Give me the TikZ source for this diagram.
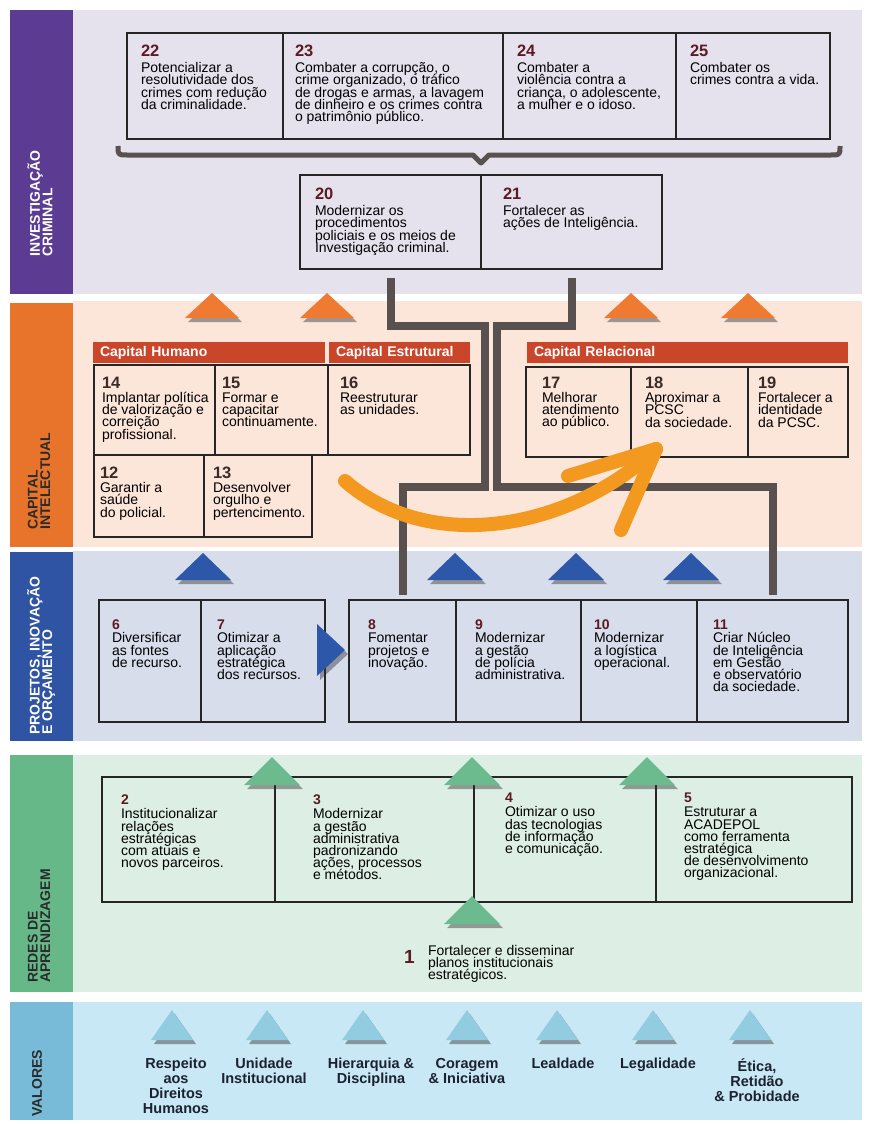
\documentclass[tikz,border=0pt]{standalone}
\usepackage{fontspec}
\setmainfont{Liberation Sans}
\usetikzlibrary{positioning,shadows}

\definecolor{purpband}{HTML}{5B3C92}
\definecolor{lavender}{HTML}{E5E2EE}
\definecolor{orangeband}{HTML}{E8742C}
\definecolor{peach}{HTML}{FCE5D9}
\definecolor{blueband}{HTML}{2F54A3}
\definecolor{bluegray}{HTML}{D7DDEB}
\definecolor{greenband}{HTML}{67B889}
\definecolor{mint}{HTML}{DDEFE4}
\definecolor{skyband}{HTML}{77BBD8}
\definecolor{sky}{HTML}{C9E8F5}
\definecolor{barred}{HTML}{C9462B}
\definecolor{linkgray}{HTML}{58514F}
\definecolor{numred}{HTML}{5C1A22}
\definecolor{numdark}{HTML}{3B2B28}
\definecolor{arroworange}{HTML}{F4991F}
\definecolor{triorange}{HTML}{EE7B31}
\definecolor{triblue}{HTML}{2D57A8}
\definecolor{trigreen}{HTML}{6CBB8F}
\definecolor{trisky}{HTML}{92CCE1}
\definecolor{labeldark}{HTML}{2B2B2B}
\definecolor{valtext}{HTML}{1C2130}

\newcommand{\bodyfont}{\fontsize{14}{12.2}\selectfont\lineskiplimit=-20pt\relax}
\newcommand{\sidefont}{\fontsize{14}{12.5}\selectfont\bfseries\lineskiplimit=-20pt\relax}
\newcommand{\bignum}[1]{{\fontsize{16.5}{12}\selectfont\bfseries\color{numred}#1}}
\newcommand{\darknum}[1]{{\fontsize{16.5}{12}\selectfont\bfseries\color{numdark}#1}}
\newcommand{\smallnum}[1]{{\fontsize{14}{12}\selectfont\bfseries\color{numred}#1}}

\tikzset{
    cell/.style={rectangle, draw=black!85, line width=1.1pt, inner sep=0pt, outer sep=0pt},
    txt/.style={inner sep=0pt, outer sep=0pt, align=left, font=\bodyfont},
    capbar/.style={rectangle, fill=barred, text=white, inner xsep=7pt, inner ysep=0pt, outer sep=0pt, minimum height=21pt, align=left, anchor=north west, font=\fontsize{14}{14}\selectfont\bfseries},
    sidelabel/.style={rotate=90, anchor=west, align=left, inner sep=0pt, font=\sidefont},
    valname/.style={anchor=north, align=center, inner sep=0pt, text=valtext, font=\fontsize{14.5}{15}\selectfont\bfseries},
    conn/.style={draw=linkgray, line width=8pt},
    brace/.style={draw=linkgray, line width=5pt, line join=round},
    bigarrow/.style={draw=arroworange, line width=14pt, line cap=round, line join=round},
    trishadow/.style={drop shadow={shadow xshift=3pt, shadow yshift=-4pt, opacity=.45, fill=black!80}}
}

\begin{document}
\begin{tikzpicture}[x=1pt, y=-1pt]
    \fill[white] (0,0) rectangle (869,1124);

    % Bands
    \fill[purpband] (10,10) rectangle (73,294);
    \fill[lavender] (73,10) rectangle (862,294);
    \fill[orangeband] (10,303) rectangle (73,547);
    \fill[peach] (73,301) rectangle (862,547);
    \fill[blueband] (10,552) rectangle (73,741);
    \fill[bluegray] (73,551) rectangle (862,741);
    \fill[greenband] (10,755) rectangle (73,992);
    \fill[mint] (73,755) rectangle (862,992);
    \fill[skyband] (10,1002) rectangle (73,1120);
    \fill[sky] (73,1002) rectangle (862,1120);

    \node[sidelabel, text=white] (lbl1) at (40,257) {INVESTIGAÇÃO\\CRIMINAL};
    \node[sidelabel, text=labeldark] (lbl2) at (39,530) {CAPITAL\\INTELECTUAL};
    \node[sidelabel, text=white] (lbl3) at (41,735) {PROJETOS, INOVAÇÃO\\E ORÇAMENTO};
    \node[sidelabel, text=labeldark] (lbl4) at (39,983) {REDES DE\\APRENDIZAGEM};
    \node[sidelabel, text=labeldark] (lbl5) at (37,1117) {VALORES};

    % Investigacao criminal
    \node[cell, minimum width=156pt, minimum height=106pt, anchor=north west] (b22) at (127,33) {};
    \node[cell, minimum width=220pt, minimum height=106pt, right=0pt of b22] (b23) {};
    \node[cell, minimum width=173pt, minimum height=106pt, right=0pt of b23] (b24) {};
    \node[cell, minimum width=154pt, minimum height=106pt, right=0pt of b24] (b25) {};
    \node[cell, minimum width=181pt, minimum height=94pt, anchor=north west] (b20) at (300,175) {};
    \node[cell, minimum width=181pt, minimum height=94pt, right=0pt of b20] (b21) {};

    \node[txt, below right=12pt and 14pt of b22.north west] (t22) {\bignum{22}\\[4pt]Potencializar a\\resolutividade dos\\crimes com redução\\da criminalidade.};
    \node[txt, below right=12pt and 12pt of b23.north west] (t23) {\bignum{23}\\[4pt]Combater a corrupção, o\\crime organizado, o tráfico\\de drogas e armas, a lavagem\\de dinheiro e os crimes contra\\o patrimônio público.};
    \node[txt, below right=12pt and 14pt of b24.north west] (t24) {\bignum{24}\\[4pt]Combater a\\violência contra a\\criança, o adolescente,\\a mulher e o idoso.};
    \node[txt, below right=12pt and 14pt of b25.north west] (t25) {\bignum{25}\\[4pt]Combater os\\crimes contra a vida.};
    \node[txt, below right=13pt and 15pt of b20.north west] (t20) {\bignum{20}\\[4pt]Modernizar os\\procedimentos\\policiais e os meios de\\Investigação criminal.};
    \node[txt, below right=13pt and 22pt of b21.north west] (t21) {\bignum{21}\\[4pt]Fortalecer as\\ações de Inteligência.};

    \draw[brace] (118,146) .. controls (118,155) .. (127,155) -- (473,155) -- (481,163) -- (489,155) -- (831,155) .. controls (840,155) .. (840,146);

    % Capital intelectual
    \node[capbar, text width=218pt] (hum) at (93,342) {Capital Humano};
    \node[capbar, text width=127pt] (est) at (329,342) {Capital Estrutural};
    \node[capbar, text width=307pt] (rel) at (527,342) {Capital Relacional};

    \node[cell, minimum width=121pt, minimum height=90pt, anchor=north west] (b14) at (94,365) {};
    \node[cell, minimum width=113pt, minimum height=90pt, right=0pt of b14] (b15) {};
    \node[cell, minimum width=142pt, minimum height=90pt, right=0pt of b15] (b16) {};
    \node[cell, minimum width=110pt, minimum height=82pt, anchor=north west] (b12) at (94,455) {};
    \node[cell, minimum width=108pt, minimum height=82pt, right=0pt of b12] (b13) {};
    \node[cell, minimum width=105pt, minimum height=90pt, anchor=north west] (b17) at (526,367) {};
    \node[cell, minimum width=117pt, minimum height=90pt, right=0pt of b17] (b18) {};
    \node[cell, minimum width=100pt, minimum height=90pt, right=0pt of b18] (b19) {};

    \node[txt, below right=12pt and 8pt of b14.north west] (t14) {\darknum{14}\\[2pt]Implantar política\\de valorização e\\correição\\profissional.};
    \node[txt, below right=12pt and 7pt of b15.north west] (t15) {\darknum{15}\\[2pt]Formar e\\capacitar\\continuamente.};
    \node[txt, below right=12pt and 12pt of b16.north west] (t16) {\darknum{16}\\[2pt]Reestruturar\\as unidades.};
    \node[txt, below right=12pt and 6pt of b12.north west] (t12) {\darknum{12}\\[2pt]Garantir a\\saúde\\do policial.};
    \node[txt, below right=12pt and 9pt of b13.north west] (t13) {\darknum{13}\\[2pt]Desenvolver\\orgulho e\\pertencimento.};
    \node[txt, below right=10pt and 16pt of b17.north west] (t17) {\darknum{17}\\[2pt]Melhorar\\atendimento\\ao público.};
    \node[txt, below right=10pt and 14pt of b18.north west] (t18) {\darknum{18}\\[2pt]Aproximar a\\PCSC\\da sociedade.};
    \node[txt, below right=10pt and 10pt of b19.north west] (t19) {\darknum{19}\\[2pt]Fortalecer a\\identidade\\da PCSC.};

    % Projetos, inovacao e orcamento
    \node[cell, minimum width=102pt, minimum height=122pt, anchor=north west] (b6) at (99,600) {};
    \node[cell, minimum width=124pt, minimum height=122pt, right=0pt of b6] (b7) {};
    \node[cell, minimum width=107pt, minimum height=122pt, anchor=north west] (b8) at (349,600) {};
    \node[cell, minimum width=125pt, minimum height=122pt, right=0pt of b8] (b9) {};
    \node[cell, minimum width=116pt, minimum height=122pt, right=0pt of b9] (b10) {};
    \node[cell, minimum width=151pt, minimum height=122pt, right=0pt of b10] (b11) {};

    \node[txt, below right=20pt and 13pt of b6.north west] (t6) {\smallnum{6}\\[1pt]Diversificar\\as fontes\\de recurso.};
    \node[txt, below right=20pt and 16pt of b7.north west] (t7) {\smallnum{7}\\[1pt]Otimizar a\\aplicação\\estratégica\\dos recursos.};
    \node[txt, below right=20pt and 19pt of b8.north west] (t8) {\smallnum{8}\\[1pt]Fomentar\\projetos e\\inovação.};
    \node[txt, below right=20pt and 19pt of b9.north west] (t9) {\smallnum{9}\\[1pt]Modernizar\\a gestão\\de polícia\\administrativa.};
    \node[txt, below right=20pt and 13pt of b10.north west] (t10) {\smallnum{10}\\[1pt]Modernizar\\a logística\\operacional.};
    \node[txt, below right=20pt and 16pt of b11.north west] (t11) {\smallnum{11}\\[1pt]Criar Núcleo\\de Inteligência\\em Gestão\\e observatório\\da sociedade.};

    % Redes de aprendizagem
    \node[cell, minimum width=173pt, minimum height=125pt, anchor=north west] (b2) at (102,777) {};
    \node[cell, minimum width=199pt, minimum height=125pt, right=0pt of b2] (b3) {};
    \node[cell, minimum width=182pt, minimum height=125pt, right=0pt of b3] (b4) {};
    \node[cell, minimum width=196pt, minimum height=125pt, right=0pt of b4] (b5) {};

    \node[txt, below right=18pt and 19pt of b2.north west] (t2) {\smallnum{2}\\[2pt]Institucionalizar\\relações\\estratégicas\\com atuais e\\novos parceiros.};
    \node[txt, below right=18pt and 38pt of b3.north west] (t3) {\smallnum{3}\\[2pt]Modernizar\\a gestão\\administrativa\\padronizando\\ações, processos\\e métodos.};
    \node[txt, below right=16pt and 31pt of b4.north west] (t4) {\smallnum{4}\\[2pt]Otimizar o uso\\das tecnologias\\de informação\\e comunicação.};
    \node[txt, below right=16pt and 28pt of b5.north west] (t5) {\smallnum{5}\\[2pt]Estruturar a\\ACADEPOL\\como ferramenta\\estratégica\\de desenvolvimento\\organizacional.};

    \node[anchor=base east, inner sep=0pt, text=numred, font=\fontsize{19}{19}\selectfont\bfseries] (n1) at (415,963) {1};
    \node[txt, anchor=north west] (t1) at (428,945) {Fortalecer e disseminar\\planos institucionais\\estratégicos.};

    % Valores
    \node[valname] (v1) at (176,1058) {Respeito\\aos\\Direitos\\Humanos};
    \node[valname] (v2) at (264,1058) {Unidade\\Institucional};
    \node[valname] (v3) at (371,1058) {Hierarquia \&\\Disciplina};
    \node[valname] (v4) at (467,1058) {Coragem\\\& Iniciativa};
    \node[valname] (v5) at (563,1058) {Lealdade};
    \node[valname] (v6) at (658,1058) {Legalidade};
    \node[valname] (v7) at (757,1058) {Ética,\\Retidão\\\& Probidade};

    % Triangles
    \foreach \x in {212,327,631,748}
        \fill[triorange, trishadow] (\x-27,318) -- (\x,293) -- (\x+27,318) -- cycle;
    \foreach \x in {203,455,576,691}
        \fill[triblue, trishadow] (\x-28,580) -- (\x,553) -- (\x+28,580) -- cycle;
    \fill[triblue, trishadow] (317,624) -- (345,650) -- (317,676) -- cycle;
    \foreach \x/\y in {272/757,472/757,647/757,472/896}
        \fill[trigreen, trishadow] (\x-28,\y+28) -- (\x,\y) -- (\x+28,\y+28) -- cycle;
    \foreach \x in {172,267,363,467,557,653,750}
        \fill[trisky, trishadow] (\x-21,1040) -- (\x,1010) -- (\x+21,1040) -- cycle;

    % Links
    \draw[conn] ([yshift=-9pt]b20.south) |- (485,326) -- (485,487) -| ([yshift=5pt]b8.north);
    \draw[conn] ([yshift=-9pt]b21.south) |- (497,326) -- (497,487) -| ([yshift=5pt]b11.north);

    % Curved arrow
    \coordinate (arcstart) at (345,481);
    \coordinate (arctip) at (656,449);
    \draw[bigarrow] (arcstart) .. controls (430,555) and (570,530) .. (arctip);
    \draw[bigarrow] (arctip) -- (568,476);
    \draw[bigarrow] (arctip) -- (621,530);
\end{tikzpicture}
\end{document}
